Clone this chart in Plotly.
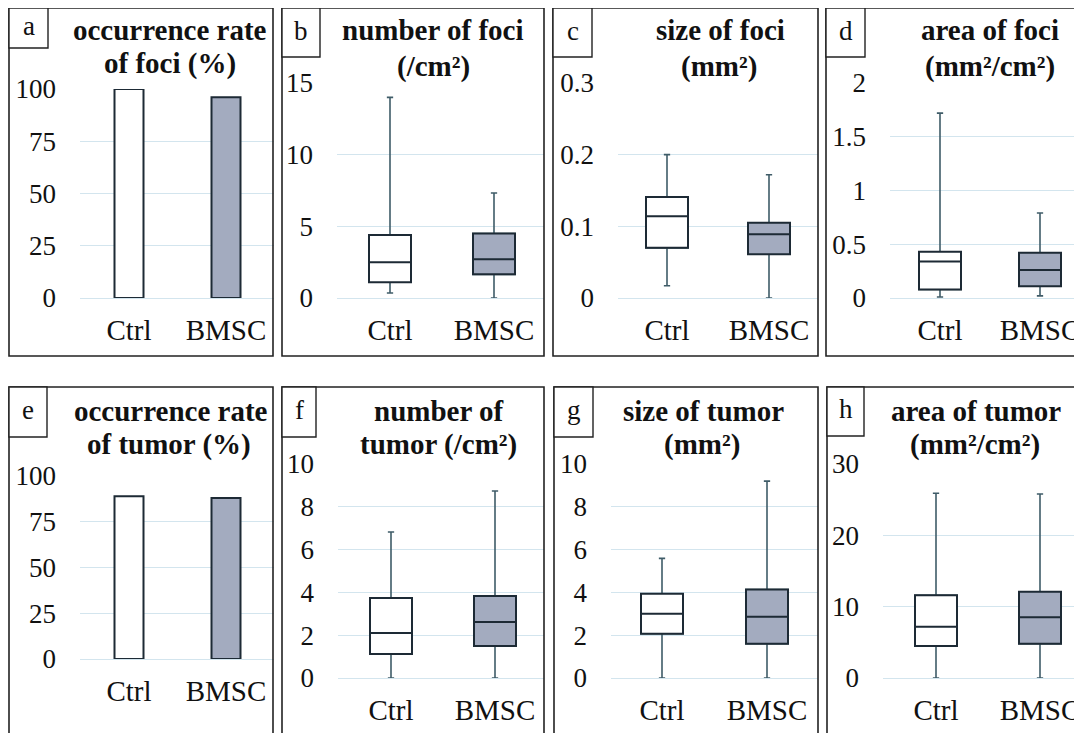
import plotly.graph_objects as go

W, H = 1082, 733
OFF = 8  # page body margin in the browser

categories = ["Ctrl", "BMSC"]

# occurrence rates (%)
foci_rate = [100, 96]
tumor_rate = [89, 88]

# box stats: [lower whisker, Q1, median, Q3, upper whisker]
foci_num_ctrl = [0.35, 1.1, 2.5, 4.4, 14.0]
foci_num_bmsc = [0.0, 1.65, 2.7, 4.5, 7.33]
foci_size_ctrl = [0.017, 0.07, 0.114, 0.141, 0.20]
foci_size_bmsc = [0.0, 0.061, 0.089, 0.105, 0.172]
foci_area_ctrl = [0.01, 0.08, 0.34, 0.43, 1.72]
foci_area_bmsc = [0.02, 0.11, 0.26, 0.42, 0.79]
tumor_num_ctrl = [0.0, 1.12, 2.1, 3.74, 6.82]
tumor_num_bmsc = [0.0, 1.5, 2.62, 3.83, 8.74]
tumor_size_ctrl = [0.0, 2.07, 3.0, 3.94, 5.59]
tumor_size_bmsc = [0.0, 1.6, 2.86, 4.13, 9.2]
tumor_area_ctrl = [0.0, 4.5, 7.2, 11.6, 25.9]
tumor_area_bmsc = [0.0, 4.8, 8.5, 12.1, 25.8]

letters = ["a", "b", "c", "d", "e", "f", "g", "h"]
titles = [
    ("occurrence rate", "of foci (%)"),
    ("number of foci", "(/cm²)"),
    ("size of foci", "(mm²)"),
    ("area of foci", "(mm²/cm²)"),
    ("occurrence rate", "of tumor (%)"),
    ("number of", "tumor (/cm²)"),
    ("size of tumor", "(mm²)"),
    ("area of tumor", "(mm²/cm²)"),
]
y_ticks = [
    [0, 25, 50, 75, 100],
    [0, 5, 10, 15],
    [0, 0.1, 0.2, 0.3],
    [0, 0.5, 1, 1.5, 2],
    [0, 25, 50, 75, 100],
    [0, 2, 4, 6, 8, 10],
    [0, 2, 4, 6, 8, 10],
    [0, 10, 20, 30],
]

# layout geometry (pixels in the final picture)
# plot area: left, right, top(ymax), bottom(0); category centres
plots = [
    (80, 274, 89, 298, 129, 226),
    (337, 544, 83, 298, 390, 494),
    (618, 818, 83, 298, 667, 769),
    (890, 1082, 83, 298, 940, 1040),
    (80, 274, 476, 659, 129, 226),
    (338, 544, 464, 678, 391, 495),
    (611, 818, 464, 678, 662, 767),
    (883, 1082, 464, 678, 936, 1040),
]
# panel frames: x0, x1, y0, y1
frames = [
    (9, 273, 8, 356), (282, 544, 8, 356), (553, 818, 8, 356), (826, 1095, 8, 356),
    (9, 273, 387, 750), (282, 544, 387, 750), (554, 818, 387, 750), (827, 1095, 387, 750),
]
# label boxes
label_boxes = [
    (9, 48, 8, 48), (282, 320, 8, 57), (553, 592, 8, 57), (826, 865, 8, 57),
    (9, 47, 387, 437), (282, 316, 387, 437), (554, 593, 387, 437), (827, 864, 387, 436),
]
title_pos = [
    (170, 30, 170, 63), (433, 30, 433, 66), (720, 30, 719, 66), (990, 30, 990, 66),
    (171, 411, 169, 444), (439, 411, 438, 444), (703, 411, 702, 444), (976, 411, 975, 444),
]

FONT = "Liberation Serif, Times New Roman, serif"
EDGE = "#1d2a35"
WHISK = "#3f5c68"
BMSC_FILL = "#a3abbf"
GRID = "#d3e5ee"

fig = go.Figure()

def px_x(v):
    return (v - OFF) / W

def px_y(v):
    return 1 - (v - OFF) / H

box_sets = {
    1: (foci_num_ctrl, foci_num_bmsc),
    2: (foci_size_ctrl, foci_size_bmsc),
    3: (foci_area_ctrl, foci_area_bmsc),
    5: (tumor_num_ctrl, tumor_num_bmsc),
    6: (tumor_size_ctrl, tumor_size_bmsc),
    7: (tumor_area_ctrl, tumor_area_bmsc),
}
bar_sets = {0: foci_rate, 4: tumor_rate}

shapes = []
annotations = []

for i in range(8):
    n = "" if i == 0 else str(i + 1)
    left, right, top, bottom, cc, cb = plots[i]
    unit = cb - cc
    xr = [-(cc - left) / unit, 1 + (right - cb) / unit]
    ticks = y_ticks[i]
    yr = [0, ticks[-1]]
    xa = "x" + n
    ya = "y" + n
    fig.layout["xaxis" + n] = dict(
        domain=[px_x(left), min(1.0, px_x(right))], anchor=ya, type="category",
        range=xr, showgrid=False, zeroline=False, showline=False, ticks="",
        tickfont=dict(family=FONT, size=29, color="#111"), ticklabelstandoff=12,
        automargin=False, fixedrange=True,
    )
    fig.layout["yaxis" + n] = dict(
        domain=[px_y(bottom), px_y(top)], anchor=xa, range=yr,
        tickvals=ticks, ticktext=[("%g" % t) for t in ticks],
        showgrid=True, gridcolor=GRID, gridwidth=1,
        zeroline=True, zerolinecolor=GRID, zerolinewidth=1,
        showline=False, ticks="",
        tickfont=dict(family=FONT, size=27, color="#111"), ticklabelstandoff=23,
        automargin=False, fixedrange=True,
    )
    if i in bar_sets:
        vals = bar_sets[i]
        fig.add_trace(go.Bar(
            x=categories, y=vals, xaxis=xa, yaxis=ya, width=29 / unit,
            marker=dict(color=["white", BMSC_FILL], line=dict(color=EDGE, width=2)),
            showlegend=False, hoverinfo="skip",
        ))
    else:
        ctrl, bmsc = box_sets[i]
        for cat, st, fill in [(categories[0], ctrl, "white"), (categories[1], bmsc, BMSC_FILL)]:
            # whiskers (thin, teal-grey)
            fig.add_trace(go.Box(
                x=[cat], lowerfence=[st[0]], q1=[st[1]], median=[st[2]],
                q3=[st[3]], upperfence=[st[4]], xaxis=xa, yaxis=ya,
                width=42 / unit, whiskerwidth=0.15, fillcolor=fill,
                line=dict(color=WHISK, width=1.6), showlegend=False,
                boxpoints=False, hoverinfo="skip",
            ))
            # box body (dark outline)
            fig.add_trace(go.Box(
                x=[cat], lowerfence=[st[1]], q1=[st[1]], median=[st[2]],
                q3=[st[3]], upperfence=[st[3]], xaxis=xa, yaxis=ya,
                width=42 / unit, whiskerwidth=0, fillcolor=fill,
                line=dict(color=EDGE, width=2), showlegend=False,
                boxpoints=False, hoverinfo="skip",
            ))
    # frame
    fx0, fx1, fy0, fy1 = frames[i]
    shapes.append(dict(type="rect", xref="paper", yref="paper",
                       x0=px_x(fx0), x1=px_x(fx1), y0=px_y(fy1), y1=px_y(fy0),
                       line=dict(color="#222", width=1.6), fillcolor="rgba(0,0,0,0)", layer="above"))
    bx0, bx1, by0, by1 = label_boxes[i]
    shapes.append(dict(type="rect", xref="paper", yref="paper",
                       x0=px_x(bx0), x1=px_x(bx1), y0=px_y(by1), y1=px_y(by0),
                       line=dict(color="#222", width=1.4), fillcolor="white", layer="above"))
    annotations.append(dict(text=letters[i], xref="paper", yref="paper",
                            x=px_x((bx0 + bx1) / 2), y=px_y((by0 + by1) / 2 - 2),
                            xanchor="center", yanchor="middle", showarrow=False,
                            font=dict(family=FONT, size=27, color="#111")))
    t1, t2 = titles[i]
    x1p, y1p, x2p, y2p = title_pos[i]
    for txt, xp, yp in [(t1, x1p, y1p), (t2, x2p, y2p)]:
        annotations.append(dict(text="<b>" + txt + "</b>", xref="paper", yref="paper",
                                x=px_x(xp), y=px_y(yp), xanchor="center", yanchor="middle",
                                showarrow=False,
                                font=dict(family=FONT, size=29, color="#111")))

fig.update_layout(
    width=W, height=H, margin=dict(l=0, r=0, t=0, b=0, autoexpand=False),
    paper_bgcolor="white", plot_bgcolor="white",
    shapes=shapes, annotations=annotations, showlegend=False,
    boxmode="overlay", barmode="overlay",
)

fig.write_html("out.html")
